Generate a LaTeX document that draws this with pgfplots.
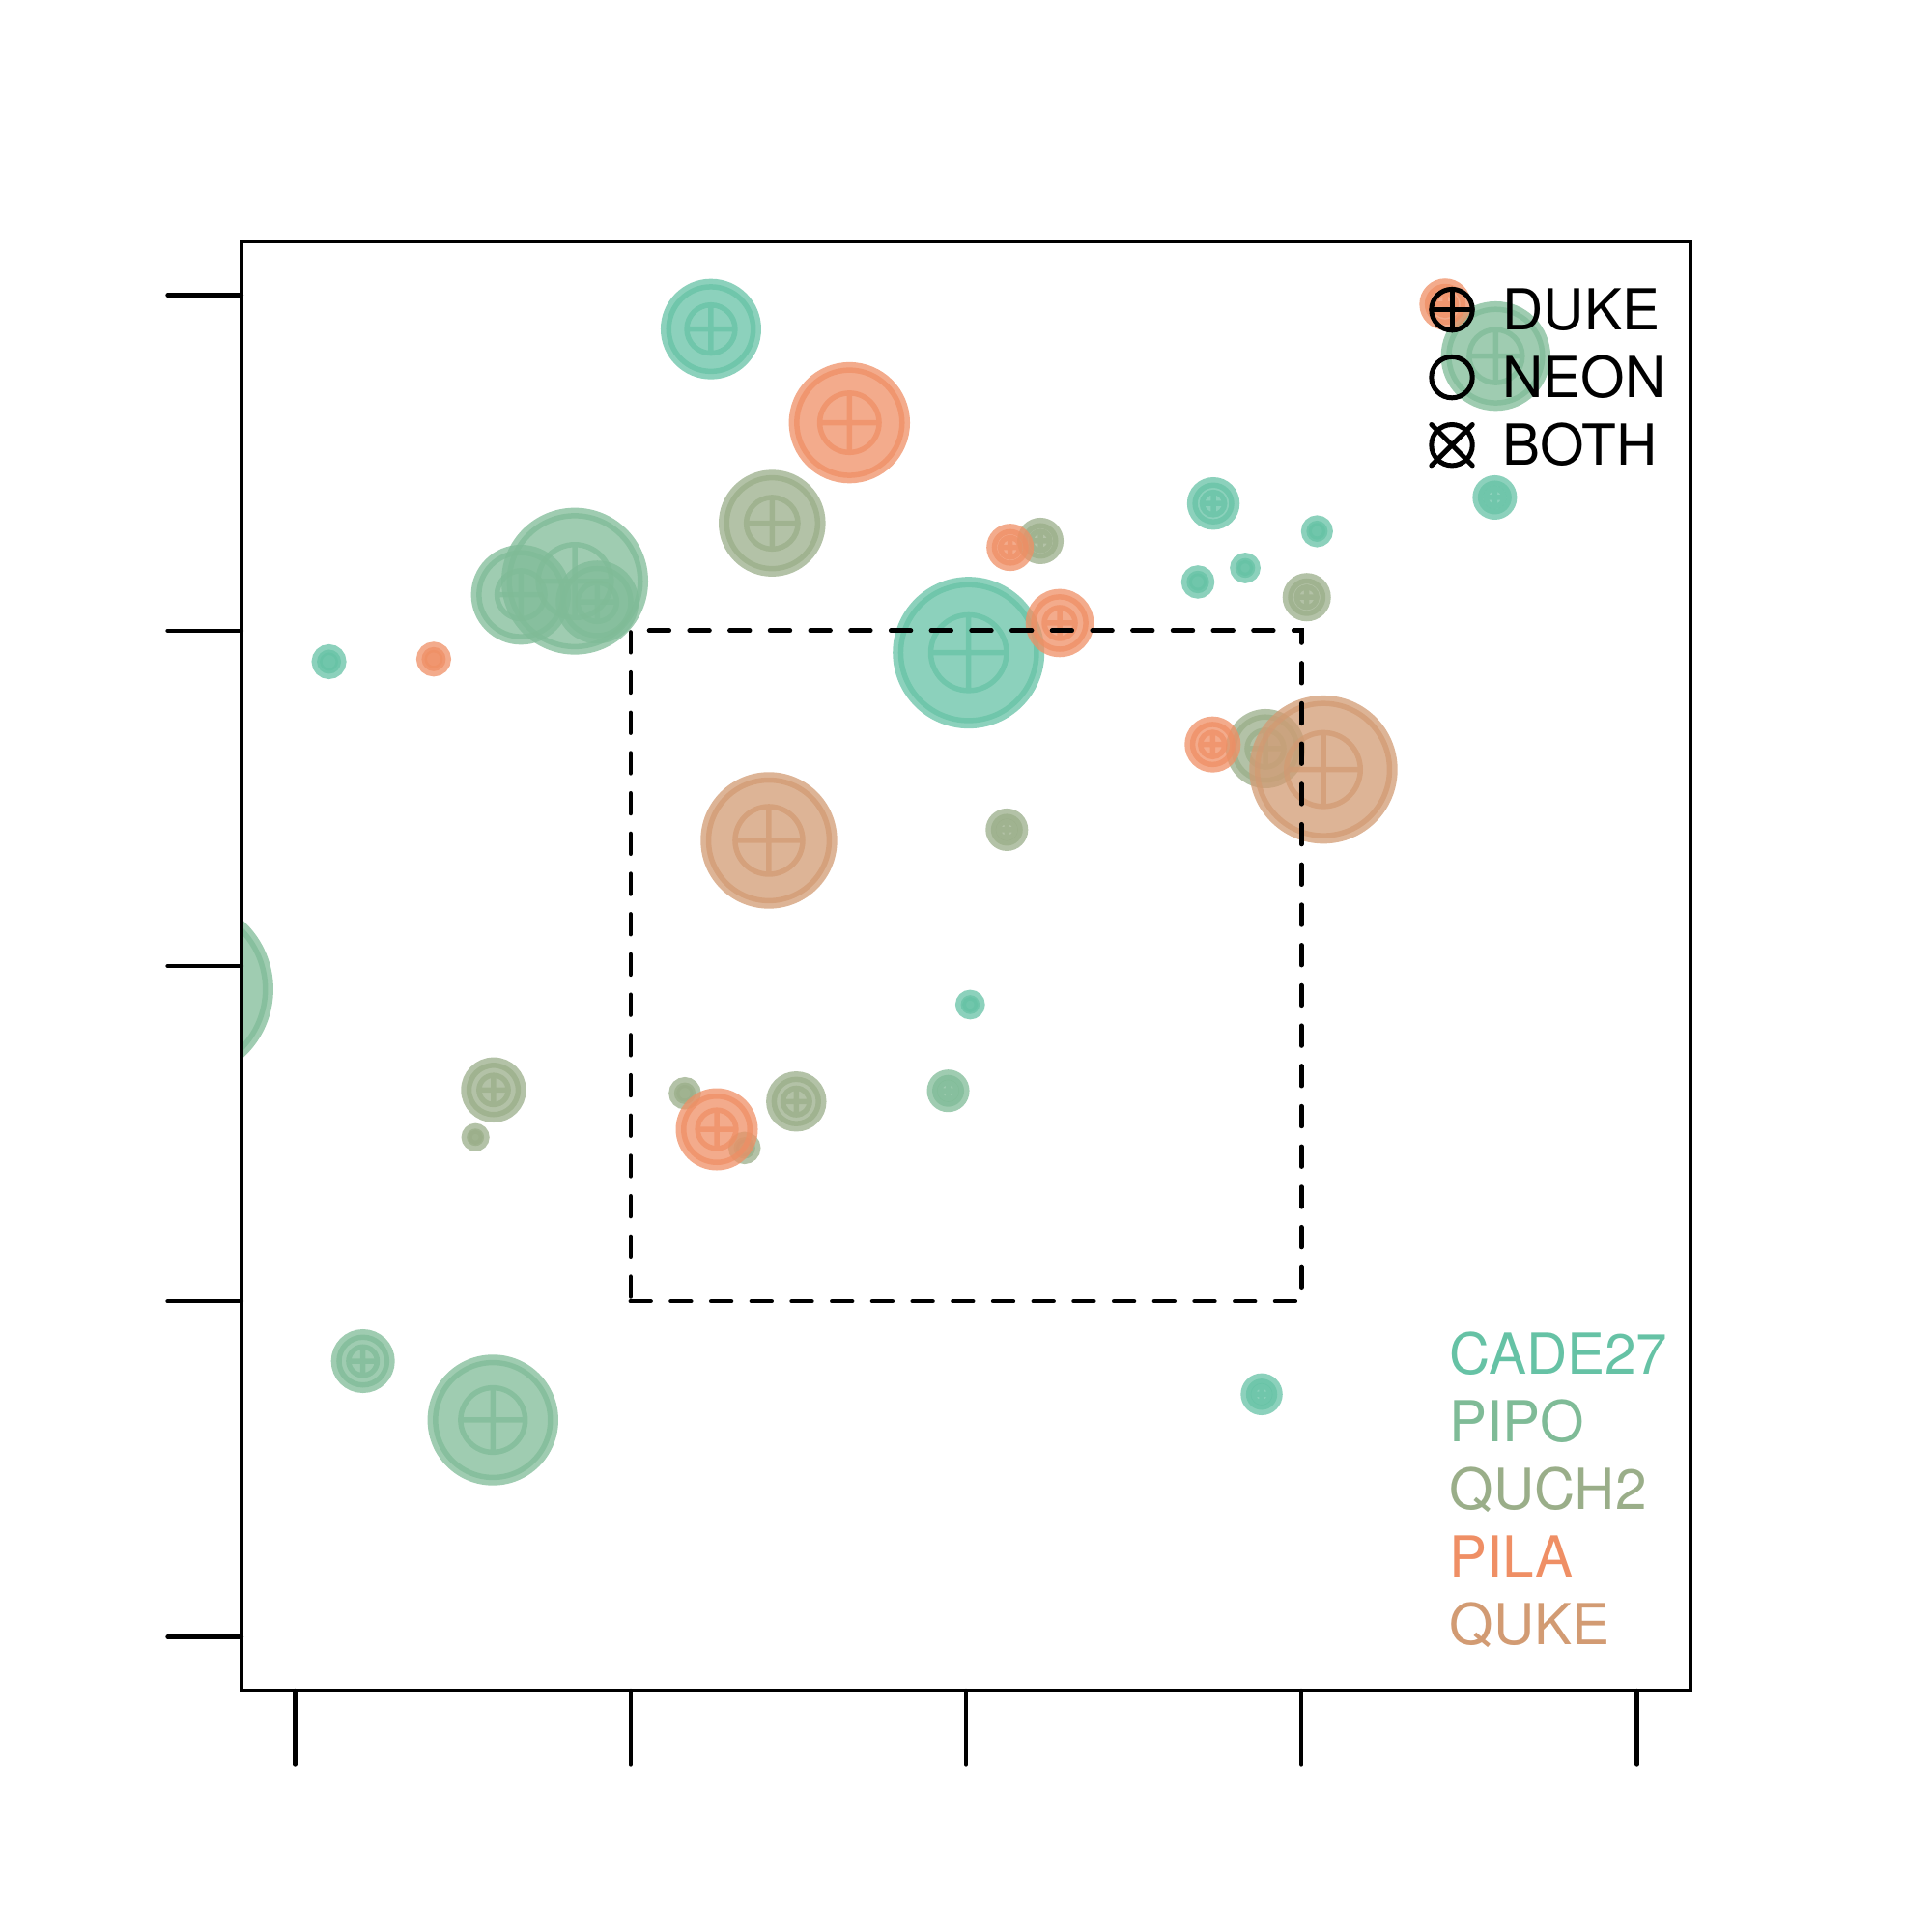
\documentclass[border=0pt]{standalone}
\usepackage{pgfplots}
\usepackage{pgfplotstable}
\pgfplotsset{compat=1.18}
\usepackage{fontspec}
\setmainfont{TeX Gyre Heros}

\definecolor{cade}{HTML}{66C2A5}
\definecolor{pipo}{HTML}{7FBB97}
\definecolor{quch}{HTML}{9AAE89}
\definecolor{pila}{HTML}{EF8F65}
\definecolor{quke}{HTML}{D29B73}

\pgfdeclareplotmark{bub}{%
  \pgfscope
  \pgfsetfillopacity{0.75}\pgfsetstrokeopacity{0.75}%
  \pgfpathcircle{\pgfpointorigin}{\pgfplotmarksize}%
  \pgfusepathqfill
  \pgfsetlinewidth{2.2pt}%
  \pgfpathcircle{\pgfpointorigin}{\pgfplotmarksize}%
  \pgfusepathqstroke
  \pgfsetlinewidth{1.1pt}%
  \pgfpathcircle{\pgfpointorigin}{0.537\pgfplotmarksize}%
  \pgfpathmoveto{\pgfpoint{-0.537\pgfplotmarksize}{0pt}}%
  \pgfpathlineto{\pgfpoint{0.537\pgfplotmarksize}{0pt}}%
  \pgfpathmoveto{\pgfpoint{0pt}{-0.537\pgfplotmarksize}}%
  \pgfpathlineto{\pgfpoint{0pt}{0.537\pgfplotmarksize}}%
  \pgfusepathqstroke
  \endpgfscope
}

\pgfplotstableread{
x y s
6.198 19.494 9.3
10.039 14.670 14.6
13.687 16.894 4.34
15.232 16.480 2.2
13.456 15.724 2.34
14.162 15.933 2.06
17.882 16.984 3.5
0.504 14.536 2.5
10.062 9.424 1.96
14.407 3.616 3.24
}\cadetab

\pgfplotstableread{
x y s
4.168 15.736 14.1
3.366 15.534 9.24
4.503 15.425 7.5
17.896 19.091 10.24
9.734 8.139 3.3
1.010 4.110 5.5
2.948 3.232 12.44
}\pipotab

% PIPO stem centred left of the plotted range (shown clipped at the frame)
\pgfplotstableread{
x y s
-1.708 9.654 18.1
}\pipoedge

\pgfplotstableread{
x y s
7.110 16.600 9.96
11.109 16.336 3.7
15.079 15.497 3.9
14.464 13.240 7.1
10.609 12.031 3.3
2.958 8.152 5.64
2.687 7.447 1.8
5.809 8.103 2.24
6.698 7.288 2.24
7.470 7.980 5.14
}\quchtab

\pgfplotstableread{
x y s
8.262 18.098 11.44
10.658 16.240 3.8
11.397 15.112 5.96
13.676 13.302 4.7
2.065 14.574 2.5
6.285 7.566 7.4
17.143 19.864 4.24
}\pilatab

\pgfplotstableread{
x y s
15.328 12.928 14.24
7.062 11.872 13.04
}\quketab

\pgfplotsset{
  bubble/.style={scatter, only marks, mark=bub,
    scatter/use mapped color={draw=#1, fill=#1},
    visualization depends on={\thisrow{s} \as \ms},
    scatter/@pre marker code/.append style={/tikz/mark size=\ms}}
}

\begin{document}
\begin{tikzpicture}
% helper axis with the same scale, reaching further left, clipped to the frame
\begin{scope}
\clip (0pt,0pt) rectangle (300pt,300pt);
\begin{axis}[at={(300pt,0pt)}, anchor=south east, scale only axis,
  width=330.556pt, height=300pt,
  xmin=-3, xmax=20.8, ymin=-0.8, ymax=20.8, hide axis, clip=false]
\addplot[bubble=pipo] table[x=x, y=y] {\pipoedge};
\end{axis}
\end{scope}
\begin{axis}[name=ax, at={(0pt,0pt)}, anchor=south west, scale only axis, width=300pt, height=300pt,
  xmin=-0.8, xmax=20.8, ymin=-0.8, ymax=20.8,
  xtick={0,5,10,15,20}, ytick={0,5,10,15,20},
  xticklabels={}, yticklabels={},
  tick pos=left, tick align=outside, major tick length=15.3pt,
  tick style={line width=0.85pt, black, line cap=round},
  axis line style={line width=0.85pt},
  clip marker paths=true]
\addplot[bubble=cade] table[x=x, y=y] {\cadetab};
\addplot[bubble=pipo] table[x=x, y=y] {\pipotab};
\addplot[bubble=quch] table[x=x, y=y] {\quchtab};
\addplot[bubble=pila] table[x=x, y=y] {\pilatab};
\addplot[bubble=quke] table[x=x, y=y] {\quketab};
\addplot[black, line width=0.9pt, dash pattern=on 4.17pt off 4.17pt, line cap=round, mark=none]
  coordinates {(5,5) (15,5) (15,15) (5,15) (5,5)};
\end{axis}
\begin{scope}[shift={(ax.south west)}, line width=1pt, line cap=round,
  every node/.style={anchor=base west, inner sep=0pt, font=\fontsize{11.7}{14}\selectfont}]
  \draw (250.6pt,285.87pt) circle[radius=4.24pt];
  \draw (246.36pt,285.87pt) -- (254.84pt,285.87pt) (250.6pt,281.63pt) -- (250.6pt,290.11pt);
  \draw (250.6pt,271.87pt) circle[radius=4.24pt];
  \draw (250.6pt,257.85pt) circle[radius=4.24pt];
  \draw (246.36pt,253.61pt) -- (254.84pt,262.09pt) (246.36pt,262.09pt) -- (254.84pt,253.61pt);
  \node at (260.6pt,281.67pt) {DUKE};
  \node at (260.6pt,267.67pt) {NEON};
  \node at (260.6pt,253.65pt) {BOTH};
  \node[text=cade] at (249.6pt,65.46pt) {CADE27};
  \node[text=pipo] at (249.6pt,51.46pt) {PIPO};
  \node[text=quch] at (249.6pt,37.46pt) {QUCH2};
  \node[text=pila] at (249.6pt,23.46pt) {PILA};
  \node[text=quke] at (249.6pt,9.46pt) {QUKE};
\end{scope}
\pgfresetboundingbox
\path[use as bounding box] ([shift={(-50pt,-50pt)}]ax.south west) rectangle ([shift={(50pt,50pt)}]ax.north east);
\end{tikzpicture}
\end{document}
